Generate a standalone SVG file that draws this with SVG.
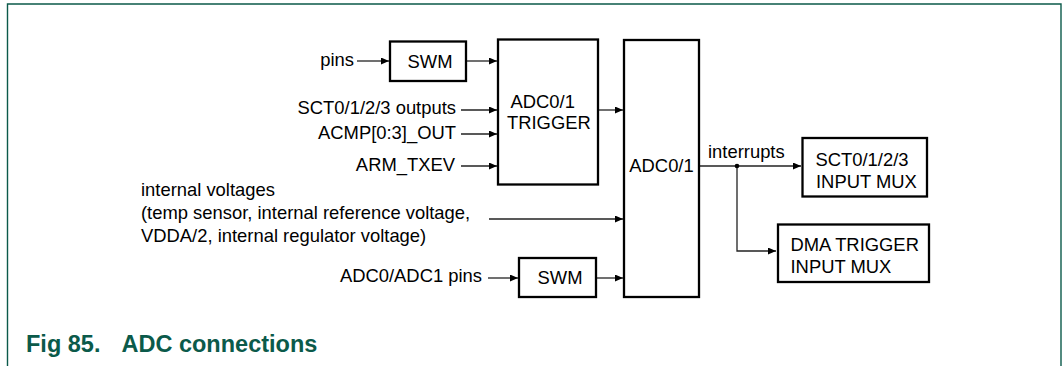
<svg xmlns="http://www.w3.org/2000/svg" width="1063" height="366" viewBox="0 0 1063 366">
<style>
.t{font-family:"Liberation Sans",Arial,sans-serif;font-size:18.4px;fill:#000}
.box{fill:#fff;stroke:#000;stroke-width:2.3}
.c{fill:none;stroke:#222;stroke-width:1.3}
.frame{fill:none;stroke:#0b5a4a;stroke-width:1.4}
.cap{font-family:"Liberation Sans",Arial,sans-serif;font-size:23.5px;font-weight:bold;fill:#0b5a4a}
</style>
<defs>
<marker id="ah" markerUnits="userSpaceOnUse" markerWidth="9" markerHeight="8" refX="8" refY="3.5" orient="auto">
<path d="M0,0 L8,3.5 L0,7 z" fill="#000"/>
</marker>
</defs>
<rect width="1063" height="366" fill="#fff"/>
<path class="frame" d="M7.5,366 V4 H1061 V366"/>

<g id="connectors">
<line class="c" x1="357" y1="61" x2="389" y2="61" marker-end="url(#ah)"/>
<line class="c" x1="467" y1="61" x2="497" y2="61" marker-end="url(#ah)"/>
<line class="c" x1="461" y1="110" x2="497" y2="110" marker-end="url(#ah)"/>
<line class="c" x1="461" y1="134" x2="497" y2="134" marker-end="url(#ah)"/>
<line class="c" x1="461" y1="166" x2="497" y2="166" marker-end="url(#ah)"/>
<line class="c" x1="598" y1="110" x2="623" y2="110" marker-end="url(#ah)"/>
<line class="c" x1="489" y1="219" x2="623" y2="219" marker-end="url(#ah)"/>
<line class="c" x1="488" y1="278" x2="518" y2="278" marker-end="url(#ah)"/>
<line class="c" x1="596" y1="278" x2="623" y2="278" marker-end="url(#ah)"/>
<line class="c" x1="699" y1="166" x2="801" y2="166" marker-end="url(#ah)"/>
<polyline class="c" points="737,166 737,251 776,251" marker-end="url(#ah)"/>
<circle cx="737" cy="166" r="2.3" fill="#000"/>
</g>

<g id="swm1">
<rect class="box" x="390" y="41.5" width="76" height="39.5"/>
<text class="t" x="430" y="68.3" text-anchor="middle">SWM</text>
</g>
<g id="trigger">
<rect class="box" x="498" y="39.5" width="100" height="145"/>
<text class="t" x="510.5" y="108">ADC0/1</text>
<text class="t" x="507" y="129.3">TRIGGER</text>
</g>
<g id="adc">
<rect class="box" x="624" y="40" width="75" height="257"/>
<text class="t" x="661.5" y="171.5" text-anchor="middle">ADC0/1</text>
</g>
<g id="swm2">
<rect class="box" x="519" y="258" width="77" height="39"/>
<text class="t" x="560" y="284" text-anchor="middle">SWM</text>
</g>
<g id="sctmux">
<rect class="box" x="802.5" y="138" width="124.5" height="58.5"/>
<text class="t" x="815.5" y="165.7">SCT0/1/2/3</text>
<text class="t" x="816" y="187.7">INPUT MUX</text>
</g>
<g id="dmamux">
<rect class="box" x="778" y="224.5" width="151" height="57.5"/>
<text class="t" x="790.5" y="251">DMA TRIGGER</text>
<text class="t" x="790.5" y="272.7">INPUT MUX</text>
</g>

<g id="labels">
<text class="t" x="354" y="65.5" text-anchor="end">pins</text>
<text class="t" x="456" y="114" text-anchor="end">SCT0/1/2/3 outputs</text>
<text class="t" x="456" y="139" text-anchor="end">ACMP[0:3]_OUT</text>
<text class="t" x="455" y="171" text-anchor="end">ARM_TXEV</text>
<text class="t" x="141" y="196">internal voltages</text>
<text class="t" x="141" y="219">(temp sensor, internal reference voltage,</text>
<text class="t" x="141" y="242">VDDA/2, internal regulator voltage)</text>
<text class="t" x="482" y="282" text-anchor="end">ADC0/ADC1 pins</text>
<text class="t" x="708" y="158">interrupts</text>
</g>

<g id="caption">
<text class="cap" x="26" y="351.5">Fig 85.</text>
<text class="cap" x="121.5" y="351.5">ADC connections</text>
</g>
</svg>
